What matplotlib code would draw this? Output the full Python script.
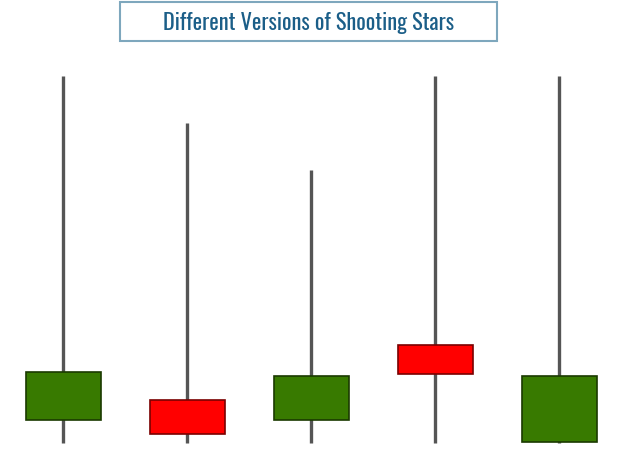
import matplotlib.pyplot as plt
from matplotlib.patches import Rectangle
from matplotlib import font_manager

# candle data (arbitrary price units)
opens = [12.3, 14.3, 12.3, 19.8, 10.1]
closes = [17.1, 10.9, 16.7, 16.9, 16.7]
highs = [46.7, 42.0, 37.3, 46.7, 46.7]
lows = [10.0, 10.0, 10.0, 10.0, 10.0]
title = 'Different Versions of Shooting Stars'

# pick a condensed face for the title if one is installed
names = {f.name for f in font_manager.fontManager.ttflist}
title_font, title_stretch = 'DejaVu Sans', 'condensed'
for cand in ['Oswald', 'Roboto Condensed', 'Liberation Sans Narrow', 'Open Sans Condensed',
             'DejaVu Sans Condensed']:
    if cand in names:
        title_font, title_stretch = cand, 'normal'
        break

fig = plt.figure(figsize=(6.17, 4.71), dpi=100)
ax = fig.add_axes([0, 0, 1, 1])
ax.set_xlim(-0.512, 4.464)
ax.set_ylim(7.2, 54.3)
ax.axis('off')

body_w = 0.605
for i in range(len(opens)):
    ax.plot([i, i], [lows[i], highs[i]], color='#555555', lw=2.4, solid_capstyle='butt', zorder=1)
    if closes[i] >= opens[i]:
        face, edge = '#387a00', '#1a3a00'
    else:
        face, edge = '#ff0000', '#7a0000'
    bottom = min(opens[i], closes[i])
    ax.add_patch(Rectangle((i - body_w / 2, bottom), body_w, abs(closes[i] - opens[i]),
                           facecolor=face, edgecolor=edge, lw=1.2, zorder=2))

fig.patches.append(Rectangle((120 / 617, 1 - 41 / 471), 377 / 617, 39 / 471,
                             transform=fig.transFigure, facecolor='white',
                             edgecolor='#7ea7bd', lw=1.5))
fig.text(308.5 / 617, 1 - 23 / 471, title, ha='center', va='center',
         fontsize=16, color='#1b5e88', family=title_font, fontstretch=title_stretch)

plt.savefig('out.png', dpi=100)
